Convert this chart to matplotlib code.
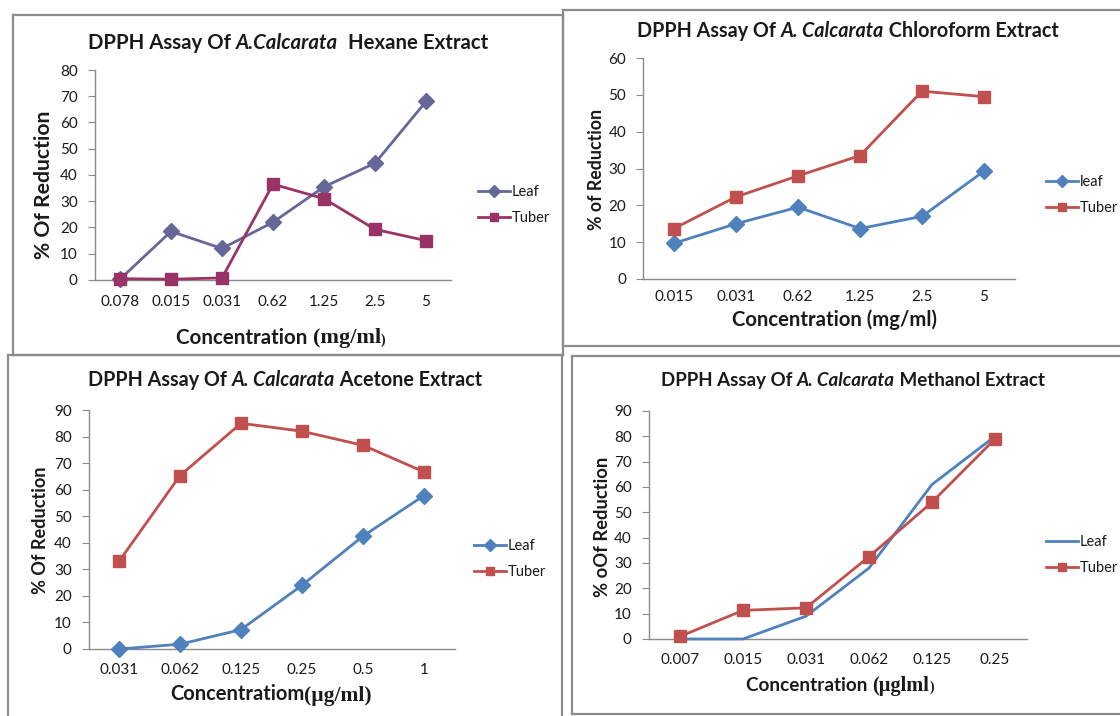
import matplotlib
matplotlib.use('Agg')
import matplotlib.pyplot as plt
from matplotlib.offsetbox import TextArea, HPacker, AnnotationBbox
from matplotlib.lines import Line2D

# ---------------- data ----------------
hex_cats = ['0.078', '0.015', '0.031', '0.62', '1.25', '2.5', '5']
hex_leaf = [0.3, 18.5, 12, 22, 35.5, 44.5, 68]
hex_tuber = [0.5, 0.3, 0.8, 36.5, 31, 19.3, 15]

chl_cats = ['0.015', '0.031', '0.62', '1.25', '2.5', '5']
chl_leaf = [9.7, 15, 19.5, 13.7, 17, 29.3]
chl_tuber = [13.7, 22.3, 28, 33.5, 51, 49.5]

ace_cats = ['0.031', '0.062', '0.125', '0.25', '0.5', '1']
ace_leaf = [0, 1.8, 7.3, 24, 42.5, 57.8]
ace_tuber = [33, 65.3, 85, 82, 76.7, 66.7]

met_cats = ['0.007', '0.015', '0.031', '0.062', '0.125', '0.25']
met_leaf = [0, 0, 9, 28, 61, 80]
met_tuber = [1, 11.3, 12.3, 32.5, 54, 79]

# ---------------- setup ----------------
W, H = 1120, 716
SANS = ['Lato', 'DejaVu Sans']
SERIF = ['Liberation Serif', 'DejaVu Serif']
plt.rcParams['font.family'] = SANS
fig = plt.figure(figsize=(11.2, 7.16), dpi=100)

GRAY = '#8a8a8a'
TXT = '#1a1a1a'


def fx(x):
    return x / W


def fy(y):
    return 1 - y / H


def border(x0, y0, x1, y1):
    for xs, ys in [((x0, x1), (y0, y0)), ((x1, x1), (y0, y1)),
                   ((x1, x0), (y1, y1)), ((x0, x0), (y1, y0))]:
        fig.add_artist(Line2D([fx(xs[0]), fx(xs[1])], [fy(ys[0]), fy(ys[1])],
                              color='#8c8c8c', lw=1.6))


def mixed(pieces, xc, yc):
    kids = [TextArea(s, textprops=p) for s, p in pieces]
    box = HPacker(children=kids, pad=0, sep=0, align='baseline')
    ab = AnnotationBbox(box, (fx(xc), fy(yc)), xycoords='figure fraction',
                        frameon=False, box_alignment=(0.5, 0.5), pad=0)
    fig.add_artist(ab)


def panel(x0, x1, ytop, ybot, ymax, cats, leaf, tuber, lcol, tcol,
          leaf_marker, leg_x, leg_y, xpad, ypad, leaf_label='Leaf'):
    ax = fig.add_axes([fx(x0), fy(ybot), fx(x1) - fx(x0), fy(ytop) - fy(ybot)])
    xs = list(range(len(cats)))
    ax.plot(xs, leaf, color=lcol, lw=2.0, marker=leaf_marker, ms=8,
            label=leaf_label, clip_on=False, zorder=3)
    ax.plot(xs, tuber, color=tcol, lw=2.0, marker='s', ms=8.5,
            label='Tuber', clip_on=False, zorder=3)
    ax.set_xlim(-0.5, len(cats) - 0.5)
    ax.set_ylim(0, ymax)
    ax.set_yticks(range(0, ymax + 1, 10))
    ax.set_xticks(xs)
    ax.set_xticklabels(cats)
    for s in ['top', 'right']:
        ax.spines[s].set_visible(False)
    for s in ['left', 'bottom']:
        ax.spines[s].set_color(GRAY)
        ax.spines[s].set_linewidth(1.0)
    ax.tick_params(axis='y', direction='out', length=5, color=GRAY,
                   labelsize=11, labelcolor=TXT, pad=ypad)
    ax.tick_params(axis='x', length=0, labelsize=11, labelcolor=TXT, pad=xpad)
    ax.patch.set_alpha(0)
    leg = ax.legend(loc='center left', bbox_to_anchor=(fx(leg_x), fy(leg_y)),
                    bbox_transform=fig.transFigure, frameon=False,
                    fontsize=10.5, handlelength=2.2, handletextpad=0.12,
                    labelspacing=0.85, borderpad=0, borderaxespad=0,
                    markerscale=0.72)
    for t in leg.get_texts():
        t.set_color(TXT)
    return ax


# borders
border(13, 15, 563, 355)
border(563, 10, 1125, 346)
border(8, 355, 562, 722)
border(572, 356, 1125, 714)

HEX_L, HEX_T = '#666699', '#993366'
BLUE, RED = '#4F81BD', '#C0504D'

panel(94.5, 451.5, 70, 280, 80, hex_cats, hex_leaf, hex_tuber, HEX_L, HEX_T,
      'D', 478, 205, 11, 7)
panel(643, 1015, 58, 279, 60, chl_cats, chl_leaf, chl_tuber, BLUE, RED,
      'D', 1046, 195, 8, 7, leaf_label='leaf')
panel(88.5, 454.5, 410, 649, 90, ace_cats, ace_leaf, ace_tuber, BLUE, RED,
      'D', 474, 559, 10, 7)
panel(648.5, 1026.5, 411, 639, 90, met_cats, met_leaf, met_tuber, BLUE, RED,
      None, 1046, 555, 10, 7)

B = dict(fontweight='bold', color=TXT, family=SANS)
BI = dict(fontweight='bold', fontstyle='italic', color=TXT, family=SANS)

# titles
mixed([('DPPH Assay Of ', dict(B, size=14.7)), ('A.Calcarata', dict(BI, size=14.7)),
       ('  Hexane Extract', dict(B, size=14.7))], 288, 43)
mixed([('DPPH Assay Of ', dict(B, size=14.2)), ('A. Calcarata', dict(BI, size=14.2)),
       (' Chloroform Extract', dict(B, size=14.2))], 848, 31)
mixed([('DPPH Assay Of ', dict(B, size=14.2)), ('A. Calcarata', dict(BI, size=14.2)),
       (' Acetone Extract', dict(B, size=14.2))], 285, 380)
mixed([('DPPH Assay Of ', dict(B, size=13.5)), ('A. Calcarata', dict(BI, size=13.5)),
       (' Methanol Extract', dict(B, size=13.5))], 853, 381)

# x labels
SB = dict(fontweight='bold', color=TXT, family=SERIF)
mixed([('Concentration ', dict(B, size=14.8)), ('(mg/ml', dict(SB, size=16)),
       (')', dict(SB, size=10))], 281, 338)
mixed([('Concentration (mg/ml)', dict(B, size=14.6))], 834, 320)
mixed([('Concentratiom', dict(B, size=14.5)), ('(\u00b5g/ml)', dict(SB, size=15.5))],
      271, 695)
mixed([('Concentration ', dict(B, size=13.6)), ('(\u00b5glml', dict(SB, size=14.7)),
       (')', dict(SB, size=10))], 840, 686)

# y labels
fig.text(fx(44), fy(185), '% Of Reduction', rotation=90, ha='center', va='center',
         fontsize=15.2, fontweight='bold', color=TXT)
fig.text(fx(597), fy(169), '% of Reduction', rotation=90, ha='center', va='center',
         fontsize=12.8, fontweight='bold', color=TXT)
fig.text(fx(41), fy(530), '% Of Reduction', rotation=90, ha='center', va='center',
         fontsize=13.1, fontweight='bold', color=TXT)
fig.text(fx(603), fy(527), '% oOf Reduction', rotation=90, ha='center', va='center',
         fontsize=13.2, fontweight='bold', color=TXT)

fig.savefig('out.png', dpi=100)
